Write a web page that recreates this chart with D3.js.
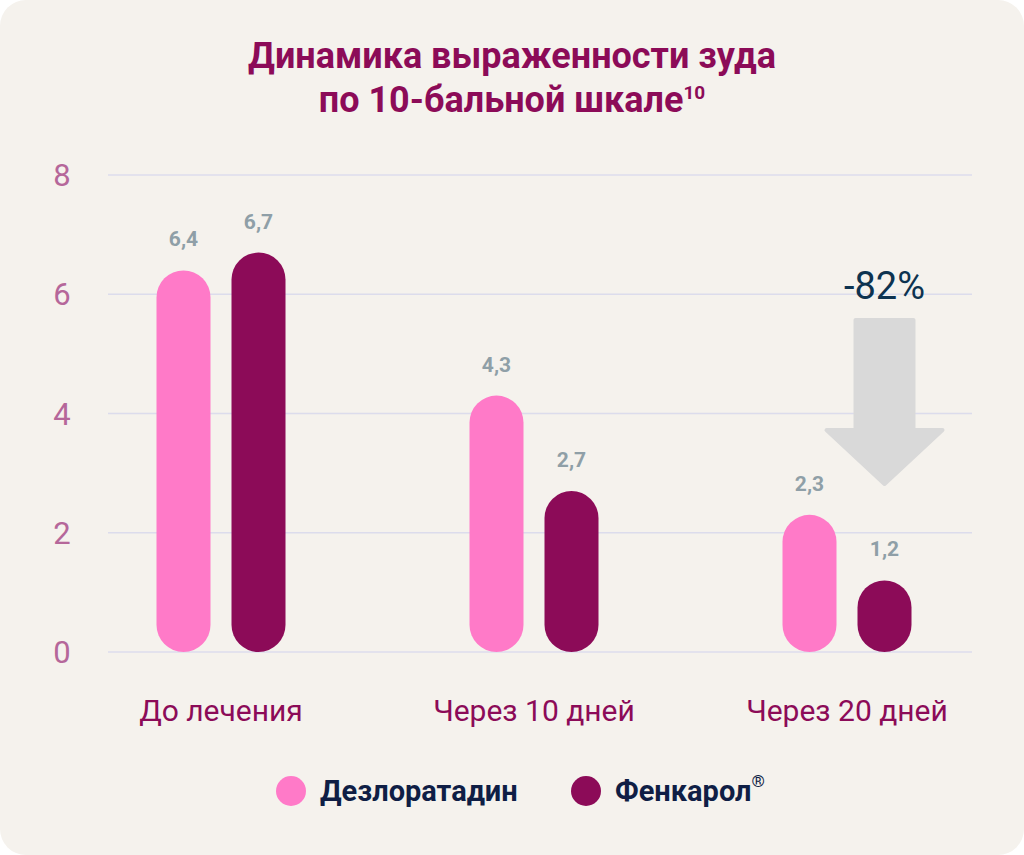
<html>
<head>
<meta charset="utf-8">
<script src="https://cdn.jsdelivr.net/npm/d3@7"></script>
<style>
  body { margin: 0; background: #ffffff; }
  svg { font-family: Roboto, "Noto Sans", sans-serif; }
</style>
</head>
<body>
<svg id="chart" width="1024" height="855"></svg>
<script>
  // data
  var categories = ["До лечения", "Через 10 дней", "Через 20 дней"];
  var seriesNames = ["Дезлоратадин", "Фенкарол"];
  var desloratadine = [6.4, 4.3, 2.3];
  var fenkarol = [6.7, 2.7, 1.2];
  var yTicks = [0, 2, 4, 6, 8];
  var titleLines = ["Динамика выраженности зуда", "по 10-бальной шкале"];
  var changeLabel = "-82%";

  var colors = ["#ff7ac8", "#8c0b58"];
  var svg = d3.select("#chart");

  // card background
  svg.append("rect")
    .attr("x", 0).attr("y", 0)
    .attr("width", 1024).attr("height", 855)
    .attr("rx", 26)
    .attr("fill", "#f5f2ed");

  // title
  svg.append("text")
    .attr("x", 512).attr("y", 68)
    .attr("text-anchor", "middle")
    .style("font-size", "36px").style("font-weight", "bold")
    .attr("fill", "#8c0b58")
    .text(titleLines[0]);
  var t2 = svg.append("text")
    .attr("x", 512).attr("y", 112)
    .attr("text-anchor", "middle")
    .style("font-size", "36px").style("font-weight", "bold")
    .attr("fill", "#8c0b58");
  t2.append("tspan").text(titleLines[1]);
  t2.append("tspan").attr("dy", -13).style("font-size", "19px").text("10");

  var y = d3.scaleLinear().domain([0, 8]).range([652, 175]);
  var x0 = d3.scaleBand().domain(categories).range([64.5, 1003.5]);
  var x1 = d3.scaleBand().domain(seriesNames).range([-64.5, 64.5]).paddingInner(0.28);

  // gridlines
  svg.append("g").selectAll("line").data(yTicks).enter()
    .append("line")
      .attr("x1", 108).attr("x2", 972)
      .attr("y1", function(d) { return y(d); })
      .attr("y2", function(d) { return y(d); })
      .attr("stroke", "#dcdcec").attr("stroke-width", 1.5);

  // y axis labels
  svg.append("g").selectAll("text").data(yTicks).enter()
    .append("text")
      .attr("x", 62)
      .attr("y", function(d) { return y(d) + 11; })
      .attr("text-anchor", "middle")
      .style("font-size", "31px")
      .attr("fill", "#b5679a")
      .text(function(d) { return d; });

  var rows = [];
  categories.forEach(function(c, i) {
    rows.push({cat: c, s: 0, v: desloratadine[i]});
    rows.push({cat: c, s: 1, v: fenkarol[i]});
  });

  var fmt = function(v) { return d3.format(".1f")(v).replace(".", ","); };

  var bars = svg.append("g").selectAll("g").data(rows).enter().append("g");
  bars.append("rect")
    .attr("x", function(d) { return x0(d.cat) + x0.bandwidth() / 2 + x1(seriesNames[d.s]); })
    .attr("y", function(d) { return y(d.v); })
    .attr("width", x1.bandwidth())
    .attr("height", function(d) { return y(0) - y(d.v); })
    .attr("rx", x1.bandwidth() / 2)
    .attr("fill", function(d) { return colors[d.s]; });
  bars.append("text")
    .attr("x", function(d) { return x0(d.cat) + x0.bandwidth() / 2 + x1(seriesNames[d.s]) + x1.bandwidth() / 2; })
    .attr("y", function(d) { return y(d.v) - 24; })
    .attr("text-anchor", "middle")
    .style("font-size", "21px").style("font-weight", "bold")
    .attr("fill", "#8f9fa7")
    .text(function(d) { return fmt(d.v); });

  // category labels
  svg.append("g").selectAll("text").data(categories).enter()
    .append("text")
      .attr("x", function(d) { return x0(d) + x0.bandwidth() / 2; })
      .attr("y", 721)
      .attr("text-anchor", "middle")
      .style("font-size", "30px")
      .attr("fill", "#8c0b58")
      .text(function(d) { return d; });

  // arrow showing reduction
  var ax = x0(categories[2]) + x0.bandwidth() / 2 + x1(seriesNames[1]) + x1.bandwidth() / 2;
  svg.append("path")
    .attr("d", "M" + (ax - 29) + ",320 L" + (ax + 29) + ",320 L" + (ax + 29) + ",430 L" + (ax + 58) + ",430 L" +
      ax + ",484 L" + (ax - 58) + ",430 L" + (ax - 29) + ",430 Z")
    .attr("fill", "#d9d9d9")
    .attr("stroke", "#d9d9d9").attr("stroke-width", 4).attr("stroke-linejoin", "round");
  svg.append("text")
    .attr("x", ax).attr("y", 299)
    .attr("text-anchor", "middle")
    .style("font-size", "38px")
    .attr("fill", "#0d3350")
    .text(changeLabel);

  // legend
  var legendX = [291, 586];
  var lg = svg.append("g").selectAll("g").data(seriesNames).enter().append("g");
  lg.append("circle")
    .attr("cx", function(d, i) { return legendX[i]; })
    .attr("cy", 791).attr("r", 15)
    .attr("fill", function(d, i) { return colors[i]; });
  var lt = lg.append("text")
    .attr("x", function(d, i) { return legendX[i] + 29; })
    .attr("y", 801)
    .style("font-size", "29px").style("font-weight", "bold")
    .attr("fill", "#0f1e45");
  lt.append("tspan").text(function(d) { return d; });
  lt.filter(function(d, i) { return i === 1; })
    .append("tspan").attr("dy", -14).style("font-size", "17px").style("font-weight", "normal").text("®");
</script>
</body>
</html>
